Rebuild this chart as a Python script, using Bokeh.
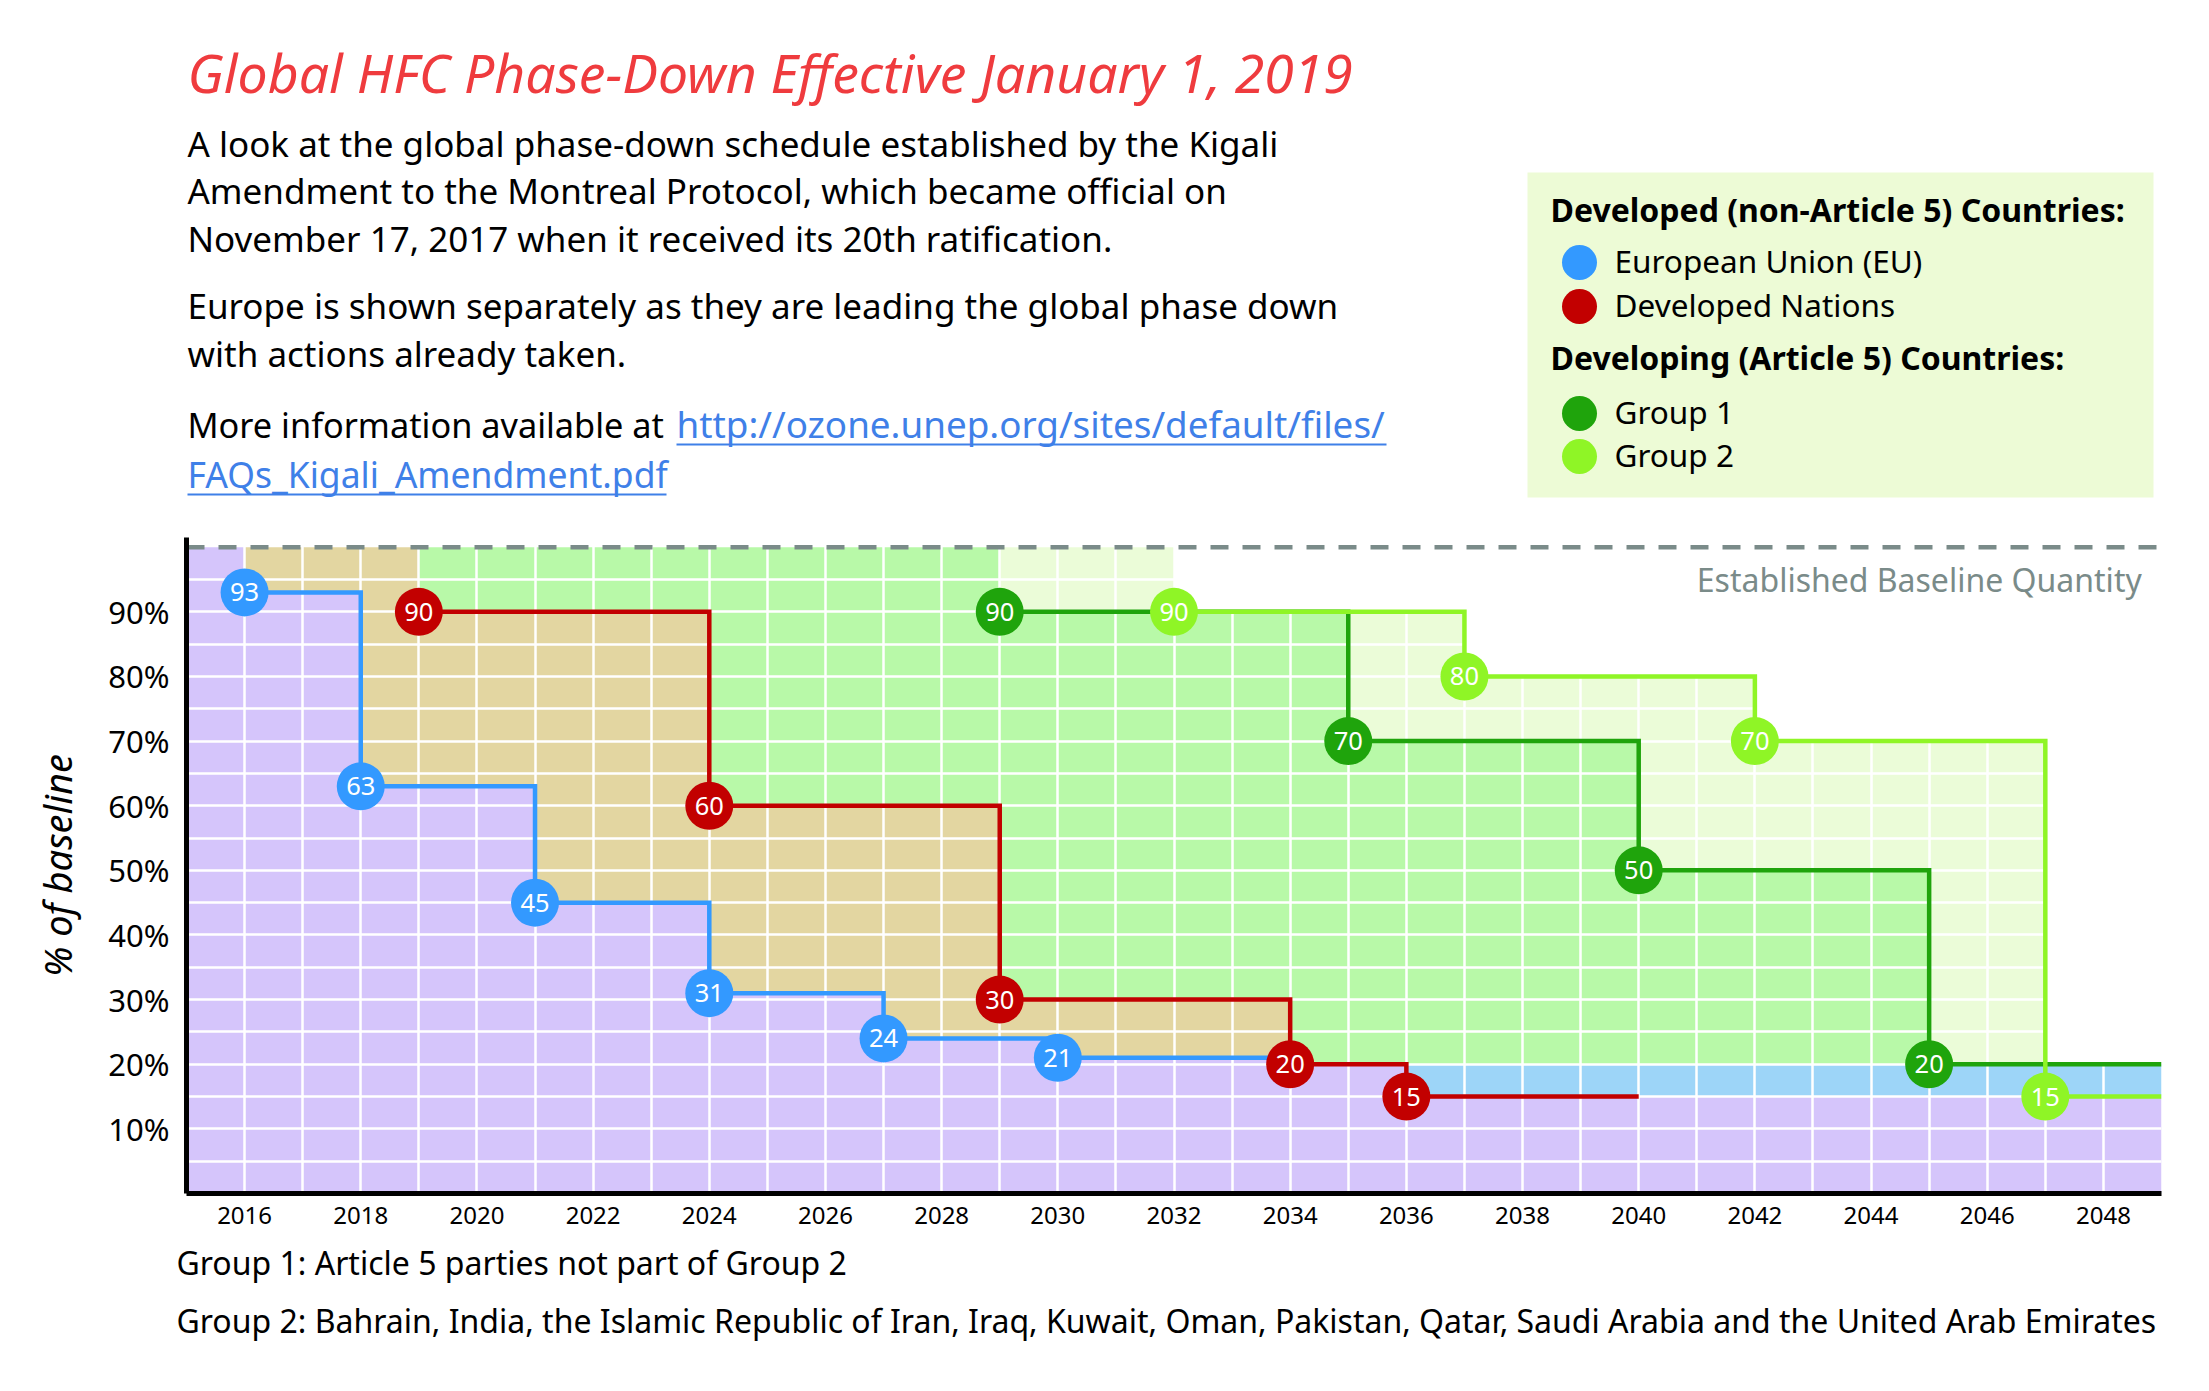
from bokeh.plotting import figure
from bokeh.layouts import column
from bokeh.models import Range1d, FixedTicker, Label, Title
from bokeh.core.properties import value
from bokeh.embed import file_html
from bokeh.resources import INLINE

# ---------------- data ----------------
BASELINE = 100
eu_years = [2016, 2018, 2021, 2024, 2027, 2030]
eu_values = [93, 63, 45, 31, 24, 21]
eu_end = 2034
dev_years = [2019, 2024, 2029, 2034, 2036]
dev_values = [90, 60, 30, 20, 15]
dev_end = 2040
g1_years = [2029, 2035, 2040, 2045]
g1_values = [90, 70, 50, 20]
g1_end = 2049
g2_years = [2032, 2037, 2042, 2047]
g2_values = [90, 80, 70, 15]
g2_end = 2049
x_start, x_end = 2015, 2049
x_tick_labels = list(range(2016, 2049, 2))
y_tick_values = list(range(10, 100, 10))

title = "Global HFC Phase-Down Effective January 1, 2019"
intro_lines = [
    "A look at the global phase-down schedule established by the Kigali",
    "Amendment to the Montreal Protocol, which became official on",
    "November 17, 2017 when it received its 20th ratification.",
    "Europe is shown separately as they are leading the global phase down",
    "with actions already taken.",
]
more_info = "More information available at"
link_lines = ["http://ozone.unep.org/sites/default/files/", "FAQs_Kigali_Amendment.pdf"]
legend_header1 = "Developed (non-Article 5) Countries:"
legend_header2 = "Developing (Article 5) Countries:"
legend_names = ["European Union (EU)", "Developed Nations", "Group 1", "Group 2"]
footnotes = [
    "Group 1: Article 5 parties not part of Group 2",
    "Group 2: Bahrain, India, the Islamic Republic of Iran, Iraq, Kuwait, Oman, Pakistan, Qatar, Saudi Arabia and the United Arab Emirates",
]

# ---------------- styles ----------------
FONT = "Noto Sans"
C_EU, C_DEV, C_G1, C_G2 = "#3399FF", "#C20000", "#1FA40C", "#8FF526"
C_PURPLE, C_TAN, C_GREEN, C_LIGHT, C_BLUE = "#D5C5FB", "#E3D6A1", "#B8F9A8", "#EBFCD8", "#9DD5F8"
C_LEGBG = "#EDFBD6"
C_GRAY = "#7A8B89"
C_LINK = "#3F80E8"

W = 2193
H_TOP = 512
H_CH = 873
FL, FR = 186, 2161          # frame left/right (page px)
BL, BR = FL, W - FR

# ---------------- top figure (title, text, legend) ----------------
top = figure(width=W, height=H_TOP, x_range=Range1d(FL, FR), y_range=Range1d(H_TOP, 0),
             x_axis_type=None, y_axis_type=None, output_backend="svg", toolbar_location=None,
             min_border_left=BL, min_border_right=BR, min_border_top=0, min_border_bottom=0)
top.grid.visible = False
top.outline_line_color = None

TX = 187
top.text(x=[TX], y=[72], text=[title], text_font=value(FONT), text_font_size=value("53.5px"),
         text_font_style="italic", text_color="#EF3B3E", text_baseline="middle", text_align="left")

intro_y = [143, 190, 237.5, 305, 353]
top.text(x=[TX] * len(intro_lines), y=intro_y, text=intro_lines, text_font=value(FONT),
         text_font_size=value("35px"), text_color="black", text_baseline="middle", text_align="left")
top.text(x=[TX], y=[423.5], text=[more_info], text_font=value(FONT),
         text_font_size=value("34.3px"), text_color="black", text_baseline="middle", text_align="left")
top.text(x=[676], y=[423.5], text=[link_lines[0]], text_font=value(FONT),
         text_font_size=value("36.8px"), text_color=C_LINK, text_baseline="middle", text_align="left")
top.text(x=[TX], y=[473], text=[link_lines[1]], text_font=value(FONT),
         text_font_size=value("35.5px"), text_color=C_LINK, text_baseline="middle", text_align="left")
top.segment(x0=[676, TX], y0=[444, 494], x1=[1386, 666], y1=[444, 494], line_color=C_LINK, line_width=2)

# legend box
top.quad(left=[1527], right=[2153], top=[172], bottom=[497], fill_color=C_LEGBG, line_color=None)
top.text(x=[1550, 1550], y=[209, 357], text=[legend_header1, legend_header2], text_font=value(FONT),
         text_font_size=value("32px"), text_font_style="bold", text_color="black",
         text_baseline="middle", text_align="left")
leg_y = [262, 306, 413, 456]
top.scatter(x=[1579] * 4, y=leg_y, size=35, marker="circle",
            fill_color=[C_EU, C_DEV, C_G1, C_G2], line_color=None)
top.text(x=[1614] * 4, y=[v - 2 for v in leg_y], text=legend_names, text_font=value(FONT),
         text_font_size=value("31.5px"), text_color="black", text_baseline="middle", text_align="left")

# ---------------- chart ----------------
p = figure(width=W, height=H_CH, x_range=Range1d(x_start, x_end), y_range=Range1d(0, 101.5),
           output_backend="svg", toolbar_location=None,
           min_border_left=BL, min_border_right=BR, min_border_top=25, min_border_bottom=H_CH - 25 - 656)
p.outline_line_color = None
p.background_fill_color = "white"


def level(years, values, t, before=BASELINE):
    v = before
    for yr, val in zip(years, values):
        if t >= yr:
            v = val
    return v


layers = {C_PURPLE: ([], [], [], []), C_TAN: ([], [], [], []), C_BLUE: ([], [], [], []),
          C_GREEN: ([], [], [], []), C_LIGHT: ([], [], [], [])}


def add(color, t, b, tp):
    if tp > b:
        L, R, B, T = layers[color]
        L.append(t); R.append(t + 1); B.append(b); T.append(tp)


g1_final = g1_values[-1]
for t in range(x_start, x_end):
    eu = level(eu_years, eu_values, t)
    dev = level(dev_years, dev_values, t)
    g1 = level(g1_years, g1_values, t)
    g2 = level(g2_years, g2_values, t)
    low = min(eu, dev)
    add(C_PURPLE, t, 0, low)
    add(C_TAN, t, low, dev)
    add(C_BLUE, t, dev, max(dev, g1_final))
    add(C_GREEN, t, max(dev, g1_final), g1)
    add(C_LIGHT, t, g1, g2)

for color, (L, R, B, T) in layers.items():
    r = p.quad(left=L, right=R, bottom=B, top=T, fill_color=color, line_color=None)
    r.level = "image"

# baseline dashed line
p.line(x=[x_start, x_end], y=[BASELINE, BASELINE], line_color=C_GRAY, line_width=4.5, line_dash="18 14")

series = [
    (eu_years, eu_values, eu_end, C_EU),
    (dev_years, dev_values, dev_end, C_DEV),
    (g1_years, g1_values, g1_end, C_G1),
    (g2_years, g2_values, g2_end, C_G2),
]
for yrs, vals, end, col in series:
    p.step(x=yrs + [end], y=vals + [vals[-1]], mode="after", line_color=col, line_width=4.5,
           line_join="miter")
for yrs, vals, end, col in series:
    p.scatter(x=yrs, y=vals, size=48, marker="circle", fill_color=col, line_color=None)
    p.text(x=yrs, y=vals, text=[str(v) for v in vals], text_font=value(FONT),
           text_font_size=value("25.5px"), text_color="white", text_align="center",
           text_baseline="middle")

# axes & grid
p.xaxis.ticker = FixedTicker(ticks=x_tick_labels)
p.yaxis.ticker = FixedTicker(ticks=y_tick_values)
p.yaxis.major_label_overrides = {v: f"{v}%" for v in y_tick_values}
p.xgrid.ticker = FixedTicker(ticks=list(range(x_start + 1, x_end)))
p.ygrid.ticker = FixedTicker(ticks=list(range(5, 100, 5)))
p.grid.grid_line_color = "white"
p.grid.grid_line_width = 2.5
for ax in (p.xaxis, p.yaxis):
    ax.axis_line_color = "black"
    ax.axis_line_width = 5
    ax.major_tick_line_color = None
    ax.minor_tick_line_color = None
    ax.major_label_text_font = FONT
    ax.major_label_text_color = "black"
p.xaxis.major_label_text_font_size = "24px"
p.yaxis.major_label_text_font_size = "31px"
p.xaxis.major_label_standoff = 7
p.yaxis.major_label_standoff = 11
p.yaxis.axis_label = "% of baseline"
p.yaxis.axis_label_text_font = FONT
p.yaxis.axis_label_text_font_style = "italic"
p.yaxis.axis_label_text_font_size = "38px"
p.yaxis.axis_label_text_color = "black"
p.yaxis.axis_label_standoff = 22

p.add_layout(Label(x=2048.66, y=95.0, text="Established Baseline Quantity", text_font=FONT,
                   text_font_size="32px", text_color=C_GRAY, text_align="right",
                   text_baseline="middle"))
for txt, so in zip(footnotes, [25, 0]):
    p.add_layout(Title(text=txt, align="left", offset=-10, text_font=FONT, text_font_size="32px",
                       text_font_style="normal", text_color="black", standoff=so,
                       text_line_height=1.0), "below")

layout = column(top, p, spacing=0)
open("out.html", "w").write(file_html(layout, INLINE))
